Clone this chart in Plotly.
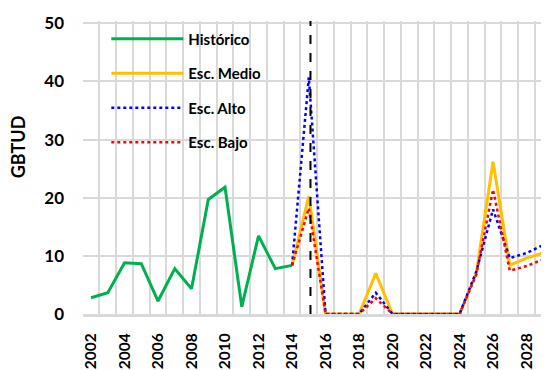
import plotly.graph_objects as go

years_hist = list(range(2002, 2015))
historico = [2.8, 3.66, 8.8, 8.65, 2.23, 7.8, 4.35, 19.7, 21.8, 1.26, 13.45, 7.8, 8.36]

years_esc = list(range(2014, 2030))
esc_medio = [8.36, 20.3, 0, 0, 0, 7.0, 0, 0, 0, 0, 0, 7.0, 26.2, 8.4, 9.6, 10.5]
esc_alto = [8.36, 40.7, 0, 0, 0, 3.66, 0, 0, 0, 0, 0, 7.3, 18.0, 9.6, 10.5, 11.85]
esc_bajo = [8.36, 18.2, 0, 0, 0, 2.7, 0, 0, 0, 0, 0, 6.8, 21.4, 7.45, 8.25, 9.4]

tick_years = list(range(2002, 2030, 2))
y_ticks = [0, 10, 20, 30, 40, 50]
marker_year = 2015.1

FONT = "Lato"

fig = go.Figure()
fig.add_trace(go.Scatter(x=years_hist, y=historico, mode="lines", name="<b>Histórico</b>",
                         line=dict(color="#00B050", width=3), legendgroup="a"))
fig.add_trace(go.Scatter(x=years_esc, y=esc_medio, mode="lines", name="<b>Esc. Medio</b>",
                         line=dict(color="#FFC000", width=3), legendgroup="b"))
fig.add_trace(go.Scatter(x=years_esc, y=esc_alto, mode="lines", name="<b>Esc. Alto</b>",
                         line=dict(color="#0000FF", width=2.5, dash="dot"), legendgroup="c"))
fig.add_trace(go.Scatter(x=years_esc, y=esc_bajo, mode="lines", name="<b>Esc. Bajo</b>",
                         line=dict(color="#FF0000", width=2.5, dash="dot"), legendgroup="d"))

fig.add_shape(type="line", xref="x", yref="paper", x0=marker_year, x1=marker_year, y0=0, y1=1,
              line=dict(color="black", width=2, dash="dash"))

fig.add_annotation(text="<b>GBTUD</b>", textangle=-90, xref="paper", yref="paper",
                   x=-0.139, y=0.57, xanchor="center", yanchor="middle", showarrow=False,
                   font=dict(family=FONT, size=18, color="black"))

fig.update_layout(
    width=541, height=362,
    margin=dict(l=75, r=0, t=13, b=56, autoexpand=False),
    paper_bgcolor="white", plot_bgcolor="white",
    font=dict(family=FONT, color="black"),
    showlegend=True,
    legend=dict(x=0.05, y=0.995, xanchor="left", yanchor="top", bgcolor="rgba(0,0,0,0)",
                font=dict(family=FONT, size=15, color="black"), tracegroupgap=12,
                itemwidth=72),
    xaxis=dict(range=[2001.52, 2029.34], tickmode="array", tickvals=tick_years,
               ticktext=[f"<b>{y}</b>" for y in tick_years], tickangle=-90,
               tickfont=dict(family=FONT, size=15.5, color="black"), automargin=False,
               showgrid=False, zeroline=False, showline=True, linecolor="#D9D9D9", linewidth=3,
               ticks="", ticklabelstandoff=10,
               minor=dict(tick0=2001.5, dtick=1, showgrid=True, gridcolor="#D9D9D9", gridwidth=1.5)),
    yaxis=dict(range=[0, 50.4], tickmode="array", tickvals=y_ticks,
               ticktext=[f"<b>{v}</b>" for v in y_ticks], automargin=False,
               tickfont=dict(family=FONT, size=17, color="black"),
               showgrid=True, gridcolor="#D9D9D9", gridwidth=1.5, zeroline=False,
               showline=False, ticks="", ticklabelstandoff=18),
)

fig.write_html("out.html")
